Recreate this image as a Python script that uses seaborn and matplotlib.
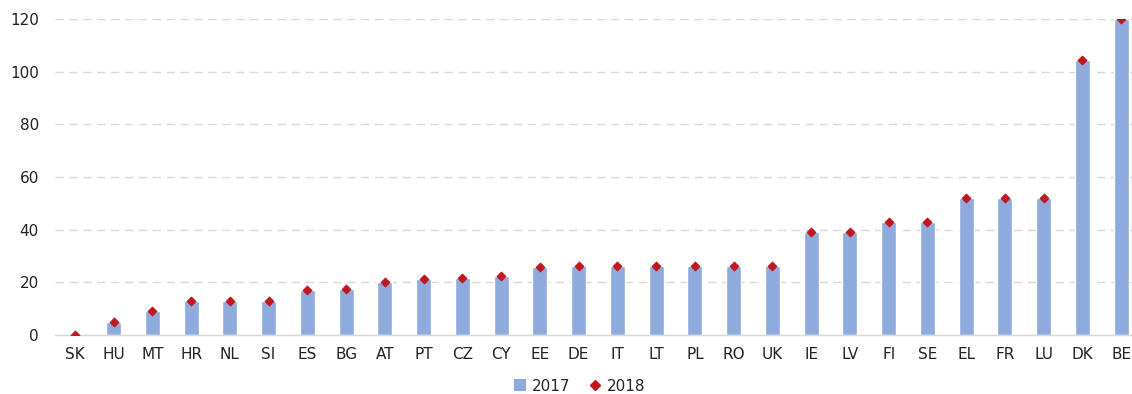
import matplotlib
matplotlib.use("Agg")
import matplotlib.pyplot as plt
import seaborn as sns
import pandas as pd
from matplotlib.lines import Line2D
from matplotlib.patches import Patch

countries = ["SK", "HU", "MT", "HR", "NL", "SI", "ES", "BG", "AT", "PT", "CZ", "CY",
             "EE", "DE", "IT", "LT", "PL", "RO", "UK", "IE", "LV", "FI", "SE", "EL",
             "FR", "LU", "DK", "BE"]
values_2017 = [0, 5, 8.9, 12.7, 13, 13, 17.1, 17.3, 20, 21.4, 21.7, 22.4,
               25.7, 26, 26, 26, 26, 26, 26, 39.2, 39.2, 43, 43, 52,
               52, 52, 104.5, 120]
values_2018 = [0, 5, 8.9, 12.7, 13, 13, 17.1, 17.3, 20, 21.4, 21.7, 22.4,
               25.7, 26, 26, 26, 26, 26, 26, 39.2, 39.2, 43, 43, 52,
               52, 52, 104.5, 120]
y_ticks = [0, 20, 40, 60, 80, 100, 120]

bar_color = "#8FAADC"
marker_color = "#C0161D"

df = pd.DataFrame({"country": countries, "y2017": values_2017, "y2018": values_2018})

sns.set_theme(style="white")
plt.rcParams["font.family"] = ["DejaVu Sans"]

fig = plt.figure(figsize=(11.32, 3.94), dpi=100)
ax = fig.add_axes([0.049, 0.150, 0.951, 0.802])

sns.barplot(data=df, x="country", y="y2017", color=bar_color, width=0.39,
            saturation=1, ax=ax, zorder=2)
sns.scatterplot(data=df, x="country", y="y2018", marker="D", s=22,
                color=marker_color, edgecolor=marker_color, linewidth=0.5,
                ax=ax, zorder=3)

ax.set_ylim(0, 120)
ax.set_xlim(-0.5, 27.28)
ax.set_yticks(y_ticks)
ax.yaxis.grid(True, linestyle=(0, (6, 4)), color="#D9D9D9", linewidth=1, zorder=0)
ax.xaxis.grid(False)
ax.set_axisbelow(True)

for side in ["top", "right", "left"]:
    ax.spines[side].set_visible(False)
ax.spines["bottom"].set_color("#D9D9D9")
ax.spines["bottom"].set_linewidth(1)

ax.tick_params(axis="both", length=0, labelsize=11, colors="#222222")
ax.tick_params(axis="x", pad=9)
ax.tick_params(axis="y", pad=12)
ax.set_xlabel("")
ax.set_ylabel("")

handles = [
    Patch(facecolor=bar_color, edgecolor="none", label="2017"),
    Line2D([], [], marker="D", linestyle="none", markersize=5,
           color=marker_color, label="2018"),
]
fig.legend(handles=handles, loc="center", bbox_to_anchor=(0.512, 0.02),
           ncol=2, frameon=False, fontsize=11, handlelength=0.8,
           handleheight=0.8, handletextpad=0.4, columnspacing=1.2)

fig.savefig("out.png", dpi=100)
